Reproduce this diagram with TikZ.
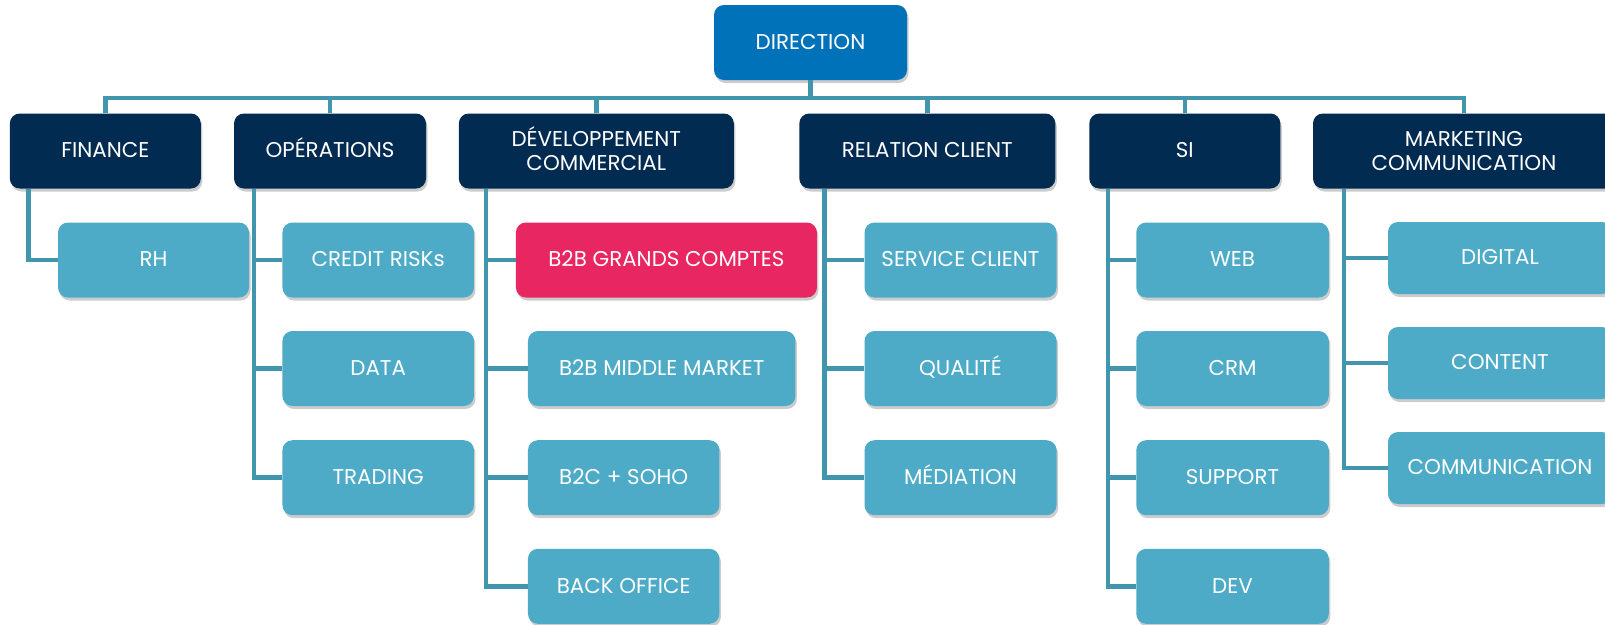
\documentclass[tikz,border=0pt]{standalone}
\usepackage{fontspec}
\setmainfont{Poppins}
\usetikzlibrary{shadows}
\definecolor{dirblue}{HTML}{0072B9}
\definecolor{navy}{HTML}{022B51}
\definecolor{lightb}{HTML}{4DABC7}
\definecolor{pinkc}{HTML}{E82661}
\definecolor{linec}{HTML}{4196AE}
\tikzset{
  box/.style={rounded corners=10pt, text=white, align=center, inner sep=0pt,
    font=\fontsize{21.4}{23.5}\selectfont, text height=14.9pt, text depth=1.2pt,
    drop shadow={shadow xshift=1.5pt, shadow yshift=-3pt, opacity=0.2, fill=black}},
  twoline/.style={text height=, text depth=},
  topbox/.style={box, fill=dirblue, minimum height=75pt},
  headbox/.style={box, fill=navy, minimum height=75pt},
  subbox/.style={box, fill=lightb, minimum height=75pt},
  mktbox/.style={box, fill=lightb, minimum height=72pt, minimum width=224pt},
  hotbox/.style={box, fill=pinkc, minimum height=75pt},
  conn/.style={draw=linec, line width=4.6pt, line join=miter}
}
\begin{document}
\begin{tikzpicture}[x=1pt,y=-1pt]
\fill[white] (0,0) rectangle (1605,624);
\useasboundingbox (0,0) rectangle (1605,624);
\coordinate (bus) at (0,98);

\node[topbox, minimum width=193pt] (dir) at (810.5,42.5) {DIRECTION};

\node[headbox, minimum width=191pt] (fin) at (105.3,151) {FINANCE};
\node[headbox, minimum width=192pt] (ops) at (330,151) {OPÉRATIONS};
\node[headbox, twoline, minimum width=275pt] (dev) at (596.3,151) {D\smash{É}VELOPPEMENT\\COMMERCIAL};
\node[headbox, minimum width=256pt] (rel) at (927.3,151) {RELATION CLIENT};
\node[headbox, minimum width=191pt] (si) at (1184.8,151) {SI};
\node[headbox, twoline, minimum width=302pt] (mkt) at (1464,151) {MARKETING\\COMMUNICATION};

\node[subbox, minimum width=191pt] (rh) at (153.5,260) {RH};

\node[subbox, minimum width=191.5pt] (cr) at (378.2,260) {CREDIT RISKs};
\node[subbox, minimum width=191.5pt] (data) at (378.2,368.5) {DATA};
\node[subbox, minimum width=191.5pt] (trad) at (378.2,477.7) {TRADING};

\node[hotbox, minimum width=301pt] (b2bgc) at (666.4,260) {B2B GRANDS COMPTES};
\node[subbox, minimum width=267.5pt] (b2bmm) at (661.7,368.5) {B2B MIDDLE MARKET};
\node[subbox, minimum width=191.5pt] (b2c) at (623.7,477.7) {B2C + SOHO};
\node[subbox, minimum width=191.5pt] (bo) at (623.7,586.3) {BACK OFFICE};

\node[subbox, minimum width=192pt] (sc) at (960.5,260) {SERVICE CLIENT};
\node[subbox, minimum width=192pt] (qual) at (960.5,368.5) {QUALITÉ};
\node[subbox, minimum width=192pt] (med) at (960.5,477.7) {MÉDIATION};

\node[subbox, minimum width=192.5pt] (web) at (1232.5,260) {WEB};
\node[subbox, minimum width=192.5pt] (crm) at (1232.5,368.5) {CRM};
\node[subbox, minimum width=192.5pt] (sup) at (1232.5,477.7) {SUPPORT};
\node[subbox, minimum width=192.5pt] (devn) at (1232.5,586.3) {DEV};

\node[mktbox] (dig) at (1500,258) {DIGITAL};
\node[mktbox] (cont) at (1500,363) {CONTENT};
\node[mktbox] (comm) at (1500,468) {COMMUNICATION};

% connectors
\path[conn] (dir.south) -- (dir.south |- bus);
\path[conn] (fin.north) -- (fin.north |- bus) -- (mkt.north |- bus) -- (mkt.north);
\path[conn] (ops.north) -- (ops.north |- bus);
\path[conn] (dev.north) -- (dev.north |- bus);
\path[conn] (rel.north) -- (rel.north |- bus);
\path[conn] (si.north) -- (si.north |- bus);

\path[conn] ([xshift=18.7pt]fin.south west) |- (rh.west);

\path[conn] ([xshift=20pt]ops.south west) |- (trad.west);
\path[conn] ([xshift=20pt]ops.south west |- cr.west) -- (cr.west);
\path[conn] ([xshift=20pt]ops.south west |- data.west) -- (data.west);

\path[conn] ([xshift=27.5pt]dev.south west) |- (bo.west);
\path[conn] ([xshift=27.5pt]dev.south west |- b2bgc.west) -- (b2bgc.west);
\path[conn] ([xshift=27.5pt]dev.south west |- b2bmm.west) -- (b2bmm.west);
\path[conn] ([xshift=27.5pt]dev.south west |- b2c.west) -- (b2c.west);

\path[conn] ([xshift=25.5pt]rel.south west) |- (med.west);
\path[conn] ([xshift=25.5pt]rel.south west |- sc.west) -- (sc.west);
\path[conn] ([xshift=25.5pt]rel.south west |- qual.west) -- (qual.west);

\path[conn] ([xshift=19pt]si.south west) |- (devn.west);
\path[conn] ([xshift=19pt]si.south west |- web.west) -- (web.west);
\path[conn] ([xshift=19pt]si.south west |- crm.west) -- (crm.west);
\path[conn] ([xshift=19pt]si.south west |- sup.west) -- (sup.west);

\path[conn] ([xshift=31pt]mkt.south west) |- (comm.west);
\path[conn] ([xshift=31pt]mkt.south west |- dig.west) -- (dig.west);
\path[conn] ([xshift=31pt]mkt.south west |- cont.west) -- (cont.west);
\end{tikzpicture}
\end{document}
